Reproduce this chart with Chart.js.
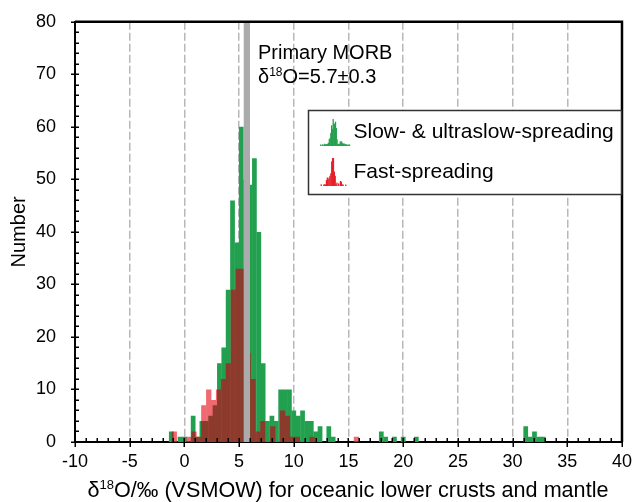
<!DOCTYPE html>
<html><head><meta charset="utf-8">
<script src="https://cdn.jsdelivr.net/npm/chart.js@4.4.0/dist/chart.umd.min.js"></script>
<style>html,body{margin:0;padding:0;background:#fff;}canvas{display:block;}</style>
</head><body>
<canvas id="c" width="641" height="502"></canvas>
<script>
// Slow- & ultraslow-spreading: 0.4-wide bins (bin centres) and counts
const slowCenters = [-1.2, -0.4, 0.0, 0.8, 1.2, 1.6, 2.0, 2.4, 2.8, 3.2, 3.6, 4.0, 4.4, 4.8, 5.2, 5.6, 6.0, 6.4, 6.8, 7.2, 7.6, 8.0, 8.4, 8.8, 9.2, 9.6, 10.0, 10.4, 10.8, 11.2, 11.6, 12.0, 12.4, 13.2, 13.6, 18.0, 18.4, 19.2, 20.0, 21.2, 31.2, 31.6, 32.0, 32.4, 32.8];
const slowCounts  = [2, 1, 1, 5, 1, 4, 4, 5, 7, 15, 18, 29, 46, 38, 60, 50, 49, 54, 40, 15, 4, 5, 4, 10, 10, 10, 6, 5, 6, 4, 4, 2, 3, 3, 1, 2, 1, 1, 1, 1, 3, 1, 2, 1, 1];
// Fast-spreading: 0.45-wide bins (bin centres) and counts
const fastCenters = [-0.925, 0.425, 0.875, 1.325, 1.775, 2.225, 2.675, 3.125, 3.575, 4.025, 4.475, 4.925, 5.375, 5.825, 6.275, 6.725, 7.175, 8.075, 8.975, 9.425, 9.875, 10.325, 11.675, 15.725];
const fastCounts  = [2, 1, 2, 1, 7, 10, 8, 10, 12, 15, 29, 33, 33, 17, 12, 2, 4, 3, 6, 5, 1, 1, 1, 1];
// Primary MORB band: 5.7 ± 0.3
const morbRange = [5.4, 6.0];
const morbTop = [80, 80];
const xTickValues = [-10, -5, 0, 5, 10, 15, 20, 25, 30, 35, 40];
const yTickValues = [0, 10, 20, 30, 40, 50, 60, 70, 80];
const seriesNames = ['Slow- & ultraslow-spreading', 'Fast-spreading'];

const FONT = "'Liberation Sans', Arial, sans-serif";
const GREEN = '#23a04f', BROWN = '#8b3a2b', PINK = '#ee6a70', GREY = '#ababab', RED_ICON = '#e8202a';

const toXY = (cs, ns) => cs.map((c, i) => ({x: c, y: ns[i]}));

const overlapPlugin = {
  id: 'overlap',
  beforeDatasetDraw(chart, args) {
    const m = chart.data.datasets[args.index].compositeMode;
    if (m) { chart.ctx.save(); chart.ctx.globalCompositeOperation = m; }
  },
  afterDatasetDraw(chart, args) {
    if (chart.data.datasets[args.index].compositeMode) chart.ctx.restore();
  }
};

function drawSupText(ctx, parts, x, y, size) {
  let cx = x;
  for (const [t, sup] of parts) {
    ctx.font = (sup ? Math.round(size * 0.62) : size) + 'px ' + FONT;
    ctx.textBaseline = 'alphabetic';
    ctx.fillText(t, cx, sup ? y - size * 0.36 : y);
    cx += ctx.measureText(t).width;
  }
  return cx - x;
}
function measureSupText(ctx, parts, size) {
  let w = 0;
  for (const [t, sup] of parts) {
    ctx.font = (sup ? Math.round(size * 0.62) : size) + 'px ' + FONT;
    w += ctx.measureText(t).width;
  }
  return w;
}

const decorPlugin = {
  id: 'decor',
  afterDatasetsDraw(chart) {
    const {ctx, chartArea: a, scales: {x, y}} = chart;
    ctx.save();
    ctx.strokeStyle = '#000';
    ctx.lineWidth = 1.5;
    ctx.beginPath();
    for (let v = -10; v <= 40; v += 1) {
      const px = Math.round(x.getPixelForValue(v)) + 0.25;
      const major = xTickValues.includes(v);
      ctx.moveTo(px, a.bottom - 4);
      ctx.lineTo(px, a.bottom + (major ? 5 : 0));
    }
    for (let v = 0; v <= 80; v += 2) {
      const py = Math.round(y.getPixelForValue(v)) + 0.25;
      const major = yTickValues.includes(v);
      ctx.moveTo(a.left - (major ? 4 : 0), py);
      ctx.lineTo(a.left + 4, py);
    }
    ctx.stroke();
    ctx.lineWidth = 2.5;
    ctx.beginPath();
    ctx.moveTo(a.left, a.top); ctx.lineTo(a.right, a.top); ctx.lineTo(a.right, a.bottom);
    ctx.stroke();
    ctx.restore();
  },
  afterDraw(chart) {
    const {ctx} = chart;
    ctx.save();
    ctx.fillStyle = '#000';
    // x axis title
    const tparts = [['δ', false], ['18', true], ['O/‰ (VSMOW) for oceanic lower crusts and mantle', false]];
    const tw = measureSupText(ctx, tparts, 21.6);
    drawSupText(ctx, tparts, 348 - tw / 2, 497, 21.6);
    // annotation
    ctx.font = '20px ' + FONT;
    ctx.textBaseline = 'alphabetic';
    ctx.fillText('Primary MORB', 258, 59);
    drawSupText(ctx, [['δ', false], ['18', true], ['O=5.7±0.3', false]], 258, 83, 20);
    // legend box
    const bx = 308.5, by = 110.5, bw = 313, bh = 84;
    ctx.fillStyle = '#fff';
    ctx.fillRect(bx, by, bw, bh);
    ctx.strokeStyle = '#333';
    ctx.lineWidth = 1.5;
    ctx.strokeRect(bx, by, bw, bh);
    const icon = (cs, ns, w, col, left, bottom, height, iw) => {
      const mx = Math.max(...ns);
      ctx.fillStyle = col;
      cs.forEach((c, i) => {
        if (c < -4 || c > 15) return;
        const px = left + (c - w / 2 + 4) / 19 * iw;
        const h = Math.max(1.5, ns[i] / mx * height);
        ctx.fillRect(px, bottom - h, Math.max(1.3, w / 19 * iw + 0.3), h);
      });
    };
    icon(slowCenters, slowCounts, 0.4, GREEN, 315, 146, 27, 37);
    icon(fastCenters, fastCounts, 0.45, RED_ICON, 315, 186, 28, 37);
    ctx.fillStyle = '#000';
    ctx.font = '21px ' + FONT;
    ctx.textBaseline = 'middle';
    ctx.fillText(seriesNames[0], 353.5, 132);
    ctx.fillText(seriesNames[1], 353.5, 172);
    ctx.restore();
  }
};

const barCommon = {grouped: false, barPercentage: 1.08, categoryPercentage: 1, borderWidth: 0, inflateAmount: 0};

new Chart(document.getElementById('c'), {
  type: 'bar',
  data: {
    datasets: [
      {type: 'line', label: 'Primary MORB', data: toXY(morbRange, morbTop), xAxisID: 'x', order: 0,
       fill: 'origin', backgroundColor: GREY, borderWidth: 0, pointRadius: 0, tension: 0},
      Object.assign({label: seriesNames[1], data: toXY(fastCenters, fastCounts), xAxisID: 'xf', order: 1,
       backgroundColor: PINK, compositeMode: 'destination-over'}, barCommon),
      Object.assign({label: seriesNames[1] + ' (overlap)', data: toXY(fastCenters, fastCounts), xAxisID: 'xf', order: 2,
       backgroundColor: BROWN, compositeMode: 'source-atop'}, barCommon),
      Object.assign({label: seriesNames[0], data: toXY(slowCenters, slowCounts), xAxisID: 'x', order: 3,
       backgroundColor: GREEN}, barCommon)
    ]
  },
  options: {
    responsive: false, animation: false, devicePixelRatio: 1,
    layout: {padding: {top: 16, right: 12, left: 0, bottom: 0}},
    plugins: {legend: {display: false}, tooltip: {enabled: false}},
    scales: {
      x: {
        type: 'linear', position: 'bottom', min: -10, max: 40, offset: false,
        afterBuildTicks: s => { s.ticks = xTickValues.map(v => ({value: v})); },
        afterFit: s => { s.height = 60; },
        ticks: {font: {family: FONT, size: 18}, color: '#000', padding: 9, maxRotation: 0, autoSkip: false},
        grid: {display: true, drawOnChartArea: true, drawTicks: false, offset: false, lineWidth: 1.5,
               color: c => (c.tick && (c.tick.value === -10 || c.tick.value === 40)) ? 'rgba(0,0,0,0)' : '#b8b8b8'},
        border: {display: true, color: '#000', width: 2, dash: [8, 3]}
      },
      xf: {type: 'linear', position: 'bottom', min: -10, max: 40, display: false, offset: false},
      y: {
        type: 'linear', min: 0, max: 80,
        afterBuildTicks: s => { s.ticks = yTickValues.map(v => ({value: v})); },
        afterFit: s => { s.width = 75; },
        ticks: {font: {family: FONT, size: 18}, color: '#000', padding: 11},
        grid: {display: false},
        border: {display: true, color: '#000', width: 2},
        title: {display: true, text: 'Number', font: {family: FONT, size: 20}, color: '#000', padding: {top: 7, bottom: 0}}
      }
    }
  },
  plugins: [overlapPlugin, decorPlugin]
});
</script>
</body></html>
